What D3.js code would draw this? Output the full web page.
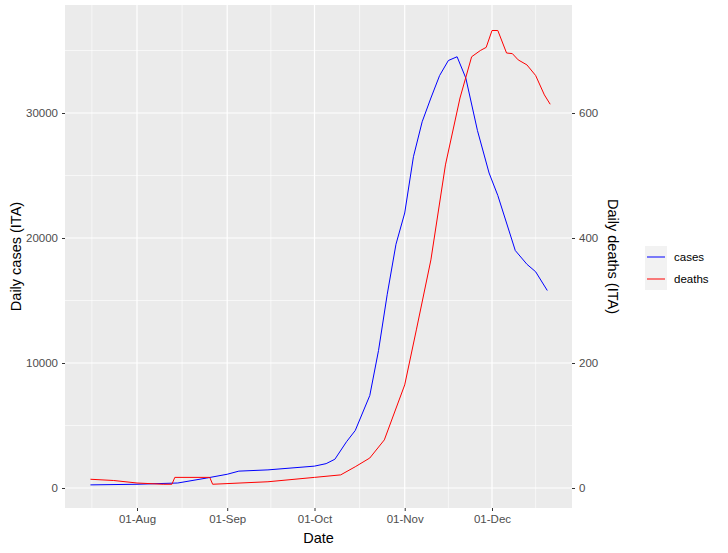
<!DOCTYPE html><html><head><script src="https://d3js.org/d3.v7.min.js"></script>
<style>body{margin:0;background:#fff}text{font-family:Arial,"Liberation Sans",sans-serif}</style></head><body>
<svg id="c" width="728" height="553"></svg>
<script>
const caseDates=["2020-07-16","2020-08-01","2020-08-15","2020-08-25","2020-09-01","2020-09-05","2020-09-15","2020-10-01","2020-10-05","2020-10-08","2020-10-12","2020-10-15","2020-10-20","2020-10-23","2020-10-26","2020-10-29","2020-11-01","2020-11-04","2020-11-07","2020-11-10","2020-11-13","2020-11-16","2020-11-19","2020-11-22","2020-11-26","2020-11-30","2020-12-03","2020-12-06","2020-12-09","2020-12-13","2020-12-16","2020-12-20"];
const cases=[250,300,400,800,1100,1350,1450,1750,1950,2300,3700,4600,7400,11000,15500,19500,22000,26500,29300,31200,33000,34200,34500,32800,28600,25200,23400,21200,19000,17900,17300,15800];
const deathDates=["2020-07-16","2020-07-24","2020-08-01","2020-08-10","2020-08-13","2020-08-14","2020-08-26","2020-08-27","2020-09-15","2020-10-01","2020-10-10","2020-10-15","2020-10-20","2020-10-25","2020-11-01","2020-11-05","2020-11-10","2020-11-15","2020-11-20","2020-11-24","2020-11-27","2020-11-29","2020-12-01","2020-12-03","2020-12-06","2020-12-08","2020-12-10","2020-12-13","2020-12-16","2020-12-19","2020-12-21"];
const deaths=[14,12,8,6,6,17,17,6,10,17,21,34,48,77,165,253,365,517,624,690,700,705,732,732,696,695,685,677,660,629,614];
const xTicks=["2020-08-01","2020-09-01","2020-10-01","2020-11-01","2020-12-01"];
const yTicks=[0,10000,20000,30000];
const y2Ticks=[0,200,400,600];
const seriesNames=["cases","deaths"];
const colors=["blue","red"];

const p=d3.timeParse("%Y-%m-%d");
const svg=d3.select("#c");
const L=65,R=572,T=5,B=508;
const a1=p("2020-08-01"),d1=p("2020-12-01");
const pxPerMs=(492-137)/(d1-a1);
const x=d3.scaleTime().domain([new Date(+a1-(137-L)/pxPerMs),new Date(+a1+(R-137)/pxPerMs)]).range([L,R]);
const y=d3.scaleLinear().domain([(488-B)/0.0125,(488-T)/0.0125]).range([B,T]);
const y2=d3.scaleLinear().domain(y.domain().map(v=>v/50)).range([B,T]);
svg.append("rect").attr("x",L).attr("y",T).attr("width",R-L).attr("height",B-T).attr("fill","#EBEBEB");
const g=svg.append("g");
const xt=xTicks.map(p);
const xMinor=[new Date((+xt[0]*2-(+xt[1]))/1)].map(d=>d);
const xm=[];
const allX=[new Date(2*xt[0]-xt[1]),...xt,new Date(2*xt[4]-xt[3])];
for(let i=0;i<allX.length-1;i++)xm.push(new Date((+allX[i]+ +allX[i+1])/2));
xm.forEach(d=>{const X=x(d);if(X>L&&X<R)g.append("line").attr("x1",X).attr("x2",X).attr("y1",T).attr("y2",B).attr("stroke","#fff").attr("stroke-width",0.6);});
[5000,15000,25000,35000].forEach(v=>g.append("line").attr("x1",L).attr("x2",R).attr("y1",y(v)).attr("y2",y(v)).attr("stroke","#fff").attr("stroke-width",0.6));
xt.forEach(d=>g.append("line").attr("x1",x(d)).attr("x2",x(d)).attr("y1",T).attr("y2",B).attr("stroke","#fff").attr("stroke-width",1.2));
yTicks.forEach(v=>g.append("line").attr("x1",L).attr("x2",R).attr("y1",y(v)).attr("y2",y(v)).attr("stroke","#fff").attr("stroke-width",1.2));
const ln=d3.line().x(d=>x(d[0]));
svg.append("path").datum(caseDates.map((d,i)=>[p(d),cases[i]])).attr("d",ln.y(d=>y(d[1]))).attr("fill","none").attr("stroke",colors[0]).attr("stroke-width",1);
svg.append("path").datum(deathDates.map((d,i)=>[p(d),deaths[i]])).attr("d",d3.line().x(d=>x(d[0])).y(d=>y2(d[1]))).attr("fill","none").attr("stroke",colors[1]).attr("stroke-width",1);
const tc="#4D4D4D",tk="#333";
const fmt=d3.timeFormat("%d-%b");
const ax=svg.append("g").attr("transform",`translate(0,${B})`).call(d3.axisBottom(x).tickValues(xt).tickFormat(fmt).tickSize(3).tickPadding(4));
const ay=svg.append("g").attr("transform",`translate(${L},0)`).call(d3.axisLeft(y).tickValues(yTicks).tickFormat(d3.format("d")).tickSize(3).tickPadding(4));
const ay2=svg.append("g").attr("transform",`translate(${R},0)`).call(d3.axisRight(y2).tickValues(y2Ticks).tickFormat(d3.format("d")).tickSize(3).tickPadding(4));
[ax,ay,ay2].forEach(a=>{a.select(".domain").remove();a.selectAll("line").attr("stroke",tk);a.selectAll("text").attr("fill",tc).style("font-size","11.5px").style("font-family","Arial,'Liberation Sans',sans-serif");});
svg.append("text").attr("x",(L+R)/2).attr("y",543).attr("text-anchor","middle").style("font-size","14.5px").text("Date");
svg.append("text").attr("transform",`translate(21,${(T+B)/2}) rotate(-90)`).attr("text-anchor","middle").style("font-size","14.5px").text("Daily cases (ITA)");
svg.append("text").attr("transform",`translate(608,${(T+B)/2}) rotate(90)`).attr("text-anchor","middle").style("font-size","14.5px").text("Daily deaths (ITA)");
seriesNames.forEach((n,i)=>{const yy=246+i*22;
svg.append("rect").attr("x",645).attr("y",yy).attr("width",22).attr("height",22).attr("fill","#F2F2F2");
svg.append("line").attr("x1",647).attr("x2",665).attr("y1",yy+11).attr("y2",yy+11).attr("stroke",colors[i]);
svg.append("text").attr("x",674).attr("y",yy+15).style("font-size","11.5px").text(n);});
</script></body></html>
